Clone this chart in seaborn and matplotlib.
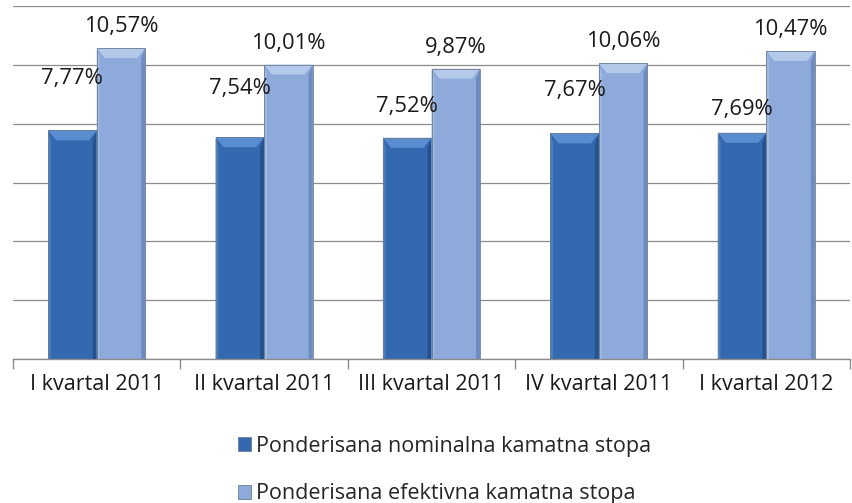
import matplotlib
matplotlib.use("Agg")
import matplotlib.pyplot as plt
import seaborn as sns
import pandas as pd
from matplotlib.patches import Patch, Polygon

categories = ["I kvartal 2011", "II kvartal 2011", "III kvartal 2011", "IV kvartal 2011", "I kvartal 2012"]
nominal = [7.77, 7.54, 7.52, 7.67, 7.69]
effective = [10.57, 10.01, 9.87, 10.06, 10.47]
series_names = ["Ponderisana nominalna kamatna stopa", "Ponderisana efektivna kamatna stopa"]

# label offsets above bar tops (data units), as placed in the original
nominal_label_offset = [1.75, 1.65, 1.05, 1.45, 0.80]
effective_label_offset = [0.72, 0.72, 0.72, 0.72, 0.72]

df = pd.DataFrame({
    "kvartal": categories * 2,
    "stopa": nominal + effective,
    "serija": [series_names[0]] * 5 + [series_names[1]] * 5,
})

sns.set_theme(style="white")
plt.rcParams["font.family"] = ["Open Sans", "DejaVu Sans"]

dark = "#3469B0"
light = "#8DAADB"
palette = {series_names[0]: dark, series_names[1]: light}

fig = plt.figure(figsize=(8.52, 5.03), dpi=100)
ax = fig.add_axes([13 / 852, 1 - 359 / 503, 837 / 852, 353 / 503])

sns.barplot(data=df, x="kvartal", y="stopa", hue="serija", palette=palette,
            width=0.58, gap=0, ax=ax, legend=False, saturation=1,
            edgecolor="none", linewidth=0)

ax.set_ylim(0, 12)
ax.set_xlim(-0.5, 4.5)
ax.set_yticks([0, 2, 4, 6, 8, 10, 12])
ax.yaxis.grid(True, color="#8C8C8C", linewidth=0.9)
ax.set_axisbelow(True)
ax.tick_params(axis="y", left=False, labelleft=False)
for s in ["left", "right", "top"]:
    ax.spines[s].set_visible(False)
ax.spines["bottom"].set_color("#8C8C8C")
ax.spines["bottom"].set_linewidth(1.0)
ax.set_xlabel("")
ax.set_ylabel("")
ax.set_xticks(range(len(categories)))
ax.set_xticklabels(categories, fontsize=15.5, color="#1a1a1a")
ax.tick_params(axis="x", which="major", length=0, pad=11)
ax.set_xticks([i - 0.5 for i in range(len(categories) + 1)], minor=True)
ax.tick_params(axis="x", which="minor", length=7, color="#8C8C8C", width=1.0, bottom=True)

# bevel effect
shade = {dark: ("#5A8DD0", "#4A7CC2", "#23528F"), light: ("#B4C8EA", "#A2BAE2", "#6F8CC0")}
bw_px = 8 / 167.4
bh = 10 / 29.4
for p in ax.patches:
    x0, y0 = p.get_x(), p.get_y()
    w, h = p.get_width(), p.get_height()
    if h <= 0:
        continue
    fc = matplotlib.colors.to_hex(p.get_facecolor())
    key = dark if abs(matplotlib.colors.to_rgb(fc)[0] - matplotlib.colors.to_rgb(dark)[0]) < 0.1 else light
    top_c, left_c, right_c = shade[key]
    x1, y1 = x0 + w, y0 + h
    ax.add_patch(Polygon([(x0, y1), (x1, y1), (x1 - bw_px, y1 - bh), (x0 + bw_px, y1 - bh)],
                         closed=True, facecolor=top_c, edgecolor="none", zorder=3))
    ax.add_patch(Polygon([(x0, y0), (x0, y1), (x0 + bw_px * 0.35, y1 - bh), (x0 + bw_px * 0.35, y0)],
                         closed=True, facecolor=left_c, edgecolor="none", zorder=3))
    ax.add_patch(Polygon([(x1, y0), (x1, y1), (x1 - bw_px * 0.5, y1 - bh), (x1 - bw_px * 0.5, y0)],
                         closed=True, facecolor=right_c, edgecolor="none", zorder=3))
    ax.add_patch(matplotlib.patches.Rectangle((x0, y0), w, h, fill=False,
                                              edgecolor="#6E7F95", linewidth=0.6, zorder=4))

def fmt(v):
    return f"{v:.2f}".replace(".", ",") + "%"

half = 0.29 / 2
for i in range(len(categories)):
    ax.text(i - half, nominal[i] + nominal_label_offset[i], fmt(nominal[i]),
            ha="center", va="center", fontsize=15.8, color="#1a1a1a", zorder=5)
    ax.text(i + half, effective[i] + effective_label_offset[i], fmt(effective[i]),
            ha="center", va="center", fontsize=15.8, color="#1a1a1a", zorder=5)

handles = [Patch(facecolor=dark, edgecolor="#6E7F95", linewidth=0.6),
           Patch(facecolor=light, edgecolor="#6E7F95", linewidth=0.6)]
fig.legend(handles, series_names, loc="center left", bbox_to_anchor=(227 / 852, 1 - 470 / 503),
           frameon=False, fontsize=15.5, handlelength=0.6, handleheight=0.6,
           handletextpad=0.25, labelspacing=1.25, borderpad=0)

fig.savefig("out.png", dpi=100)
